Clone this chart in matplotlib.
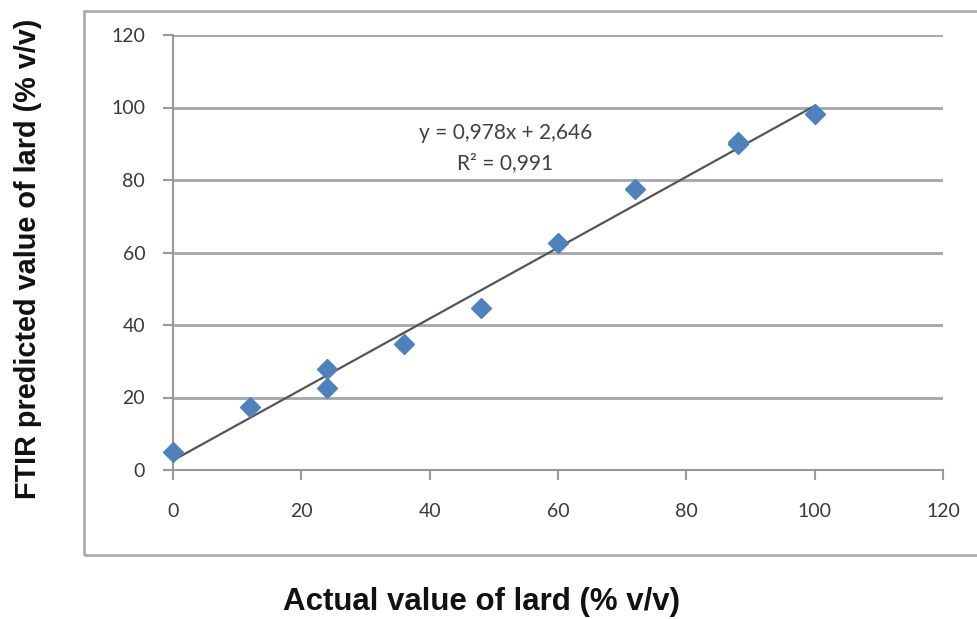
import matplotlib
matplotlib.use("Agg")
import matplotlib.pyplot as plt
from matplotlib.patches import Rectangle
import numpy as np

# Data
actual = [0, 12, 24, 24, 36, 48, 60, 72, 88, 88, 100]
predicted = [5.0, 17.3, 27.8, 22.6, 34.7, 44.6, 62.5, 77.4, 90.0, 90.6, 98.3]
slope = 0.978
intercept = 2.646
r2_text = "R² = 0,991"
eq_text = "y = 0,978x + 2,646"
xticks = [0, 20, 40, 60, 80, 100, 120]
yticks = [0, 20, 40, 60, 80, 100, 120]
xlabel = "Actual value of lard (% v/v)"
ylabel = "FTIR predicted value of lard (% v/v)"

W, H = 978, 619
fig = plt.figure(figsize=(W / 100, H / 100), dpi=100)
fig.patch.set_facecolor("white")

# outer chart frame
fig.patches.append(Rectangle((84 / W, 1 - 555 / H), (990 - 84) / W, (555 - 11) / H,
                             transform=fig.transFigure, fill=False,
                             edgecolor="#a6a6a6", linewidth=1.8, zorder=0))

ax = fig.add_axes([173 / W, 1 - 470 / H, (943 - 173) / W, (470 - 35) / H])
ax.set_xlim(0, 120)
ax.set_ylim(0, 120)

ax.set_xticks(xticks)
ax.set_yticks(yticks)
tick_font = dict(family=["Lato", "DejaVu Sans"], size=14, color="#3a3a3a")
ax.set_xticklabels([str(t) for t in xticks], **tick_font)
ax.set_yticklabels([str(t) for t in yticks], **tick_font)
ax.tick_params(axis="x", direction="out", length=7, width=1.5, color="#999999", pad=17)
ax.tick_params(axis="y", direction="out", length=7, width=1.5, color="#999999", pad=13)

for s in ["top", "right"]:
    ax.spines[s].set_visible(False)
for s in ["left", "bottom"]:
    ax.spines[s].set_color("#999999")
    ax.spines[s].set_linewidth(1.5)

ax.yaxis.grid(True, color="#a6a6a6", linewidth=2.0)
ax.xaxis.grid(False)
ax.set_axisbelow(True)

# trendline
xl = np.array([min(actual), max(actual)])
ax.plot(xl, slope * xl + intercept, color="#555555", linewidth=1.6, zorder=3)

ax.plot(actual, predicted, linestyle="none", marker="D", markersize=10,
        color="#4f81bd", markeredgecolor="#4f81bd", zorder=4, clip_on=False)

eq_font = dict(family=["Lato", "DejaVu Sans"], size=15, color="#404040")
fig.text(506 / W, 1 - 133 / H, eq_text, ha="center", va="center", **eq_font)
fig.text(505 / W, 1 - 163 / H, r2_text, ha="center", va="center", **eq_font)

fig.text(482 / W, 1 - 602 / H, xlabel, ha="center", va="center",
         family=["Liberation Sans", "DejaVu Sans"], size=22.5, weight="bold", color="#111111")
fig.text(28 / W, 1 - 259 / H, ylabel, ha="center", va="center", rotation=90,
         family=["Liberation Sans", "DejaVu Sans"], size=20.8, weight="bold", color="#111111")

fig.savefig("out.png", dpi=100, facecolor="white")
